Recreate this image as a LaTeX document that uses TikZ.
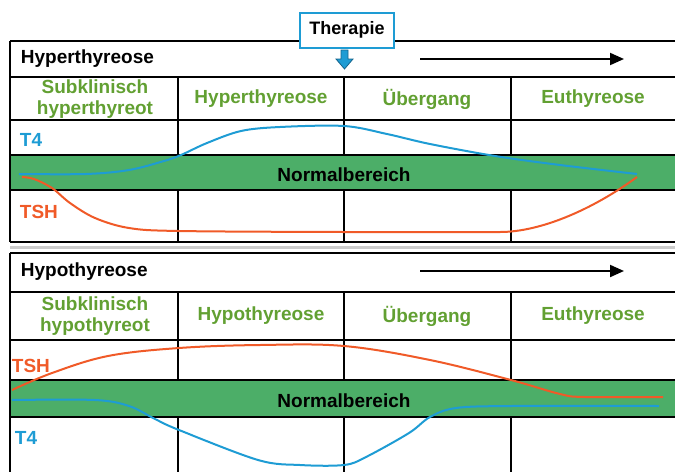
\documentclass[tikz,border=0pt]{standalone}
\usepackage{fontspec}
\setmainfont{Liberation Sans}
\usetikzlibrary{arrows.meta}
\definecolor{bandgreen}{RGB}{76,174,104}
\definecolor{labgreen}{RGB}{98,160,50}
\definecolor{tblue}{RGB}{30,156,212}
\definecolor{darkblue}{RGB}{20,100,140}
\definecolor{torange}{RGB}{240,90,40}
\begin{document}
\begin{tikzpicture}[x=1pt,y=-1pt,line width=1.8pt,
  lab/.style={font=\fontsize{19}{21}\selectfont\bfseries,text=labgreen,align=center,inner sep=0pt},
  ttl/.style={font=\fontsize{19}{21}\selectfont\bfseries,anchor=west,inner sep=0pt},
  band/.style={font=\fontsize{19}{21}\selectfont\bfseries,inner sep=0pt},
  bluecurve/.style={tblue,line width=2pt},
  orangecurve/.style={torange,line width=2pt},
  bluetxt/.style={font=\fontsize{19}{21}\selectfont\bfseries,text=tblue,anchor=west,inner sep=0pt},
  orangetxt/.style={font=\fontsize{19}{21}\selectfont\bfseries,text=torange,anchor=west,inner sep=0pt}]
\useasboundingbox (0,0) rectangle (675,472);
% ---------- top panel ----------
\draw[gray!40,line width=3pt] (10,247) -- (675,247);
\foreach \c in {178,344,511} \draw (\c,77) -- (\c,242);
\fill[bandgreen] (10,155) rectangle (675,190);
\draw (10,41) -- (675,41);
\draw (10,41) -- (10,242);
\draw (10,77) -- (675,77);
\draw (10,120) -- (675,120);
\draw (10,155) -- (675,155);
\draw (10,190) -- (675,190);
\draw (10,242) -- (675,242);
\node[ttl] (t1) at (20,59) {Hyperthyreose};
\coordinate (a1s) at (420,59);
\coordinate (a1e) at (624,59);
\draw[-{Triangle[length=14pt,width=12pt]},line width=2pt] (a1s) -- (a1e);
\node[lab] (h11) at (95,99) {Subklinisch\\hyperthyreot};
\node[lab] (h12) at (261,99) {Hyperthyreose};
\node[lab] (h13) at (427,99) {Übergang};
\node[lab] (h14) at (593,99) {Euthyreose};
\node[band] (n1) at (344,175) {Normalbereich};
\node[bluetxt] (l1) at (19,140) {T4};
\node[orangetxt] (l2) at (19,212) {TSH};
\draw[orangecurve] plot[smooth,tension=0.55] coordinates {(22,177) (34,179) (52,188) (70,203) (95,218) (129,228) (179,231) (344,232) (500,232)}
  .. controls (540,232) and (592,210) .. (637,177);
\draw[bluecurve] plot[smooth,tension=0.55] coordinates {(19,174) (86,174) (129,170) (164,161) (181,155) (207,143) (241,131) (280,127) (344,126) (387,134) (430,144) (495,156) (560,165) (637,174)};
% Therapie
\node[draw=tblue,line width=2pt,fill=white,minimum width=94pt,minimum height=35pt,font=\fontsize{18}{20}\selectfont\bfseries] (th) at (347,30) {Therapie};
\filldraw[fill=tblue,draw=darkblue,line width=0.8pt] (341,50) -- (348,50) -- (348,59) -- (353,59) -- (344.5,69) -- (336,59) -- (341,59) -- cycle;
% ---------- bottom panel ----------
\foreach \c in {178,344,511} \draw (\c,292) -- (\c,472);
\fill[bandgreen] (10,380) rectangle (675,417);
\draw (10,253) -- (675,253);
\draw (10,253) -- (10,472);
\draw (10,292) -- (675,292);
\draw (10,340) -- (675,340);
\draw (10,380) -- (675,380);
\draw (10,417) -- (675,417);
\node[ttl] (t2) at (20,272) {Hypothyreose};
\coordinate (a2s) at (420,271);
\coordinate (a2e) at (624,271);
\draw[-{Triangle[length=14pt,width=12pt]},line width=2pt] (a2s) -- (a2e);
\node[lab] (h21) at (95,316) {Subklinisch\\hypothyreot};
\node[lab] (h22) at (261,316) {Hypothyreose};
\node[lab] (h23) at (427,316) {Übergang};
\node[lab] (h24) at (593,316) {Euthyreose};
\node[band] (n2) at (344,401) {Normalbereich};
\node[orangetxt] (l3) at (11,366) {TSH};
\node[bluetxt] (l4) at (14,438) {T4};
\draw[orangecurve] plot[smooth,tension=0.6] coordinates {(12,390) (52,373) (108,356) (179,348) (260,345) (344,346) (430,360) (511,380) (560,394) (585,397) (663,397)};
\draw[bluecurve] plot[smooth,tension=0.55] coordinates {(12,400) (95,400) (129,406) (155,419) (179,430) (258,460) (300,465) (344,465) (366,457) (409,433) (430,417) (456,408) (511,406) (659,406)};
\end{tikzpicture}
\end{document}
